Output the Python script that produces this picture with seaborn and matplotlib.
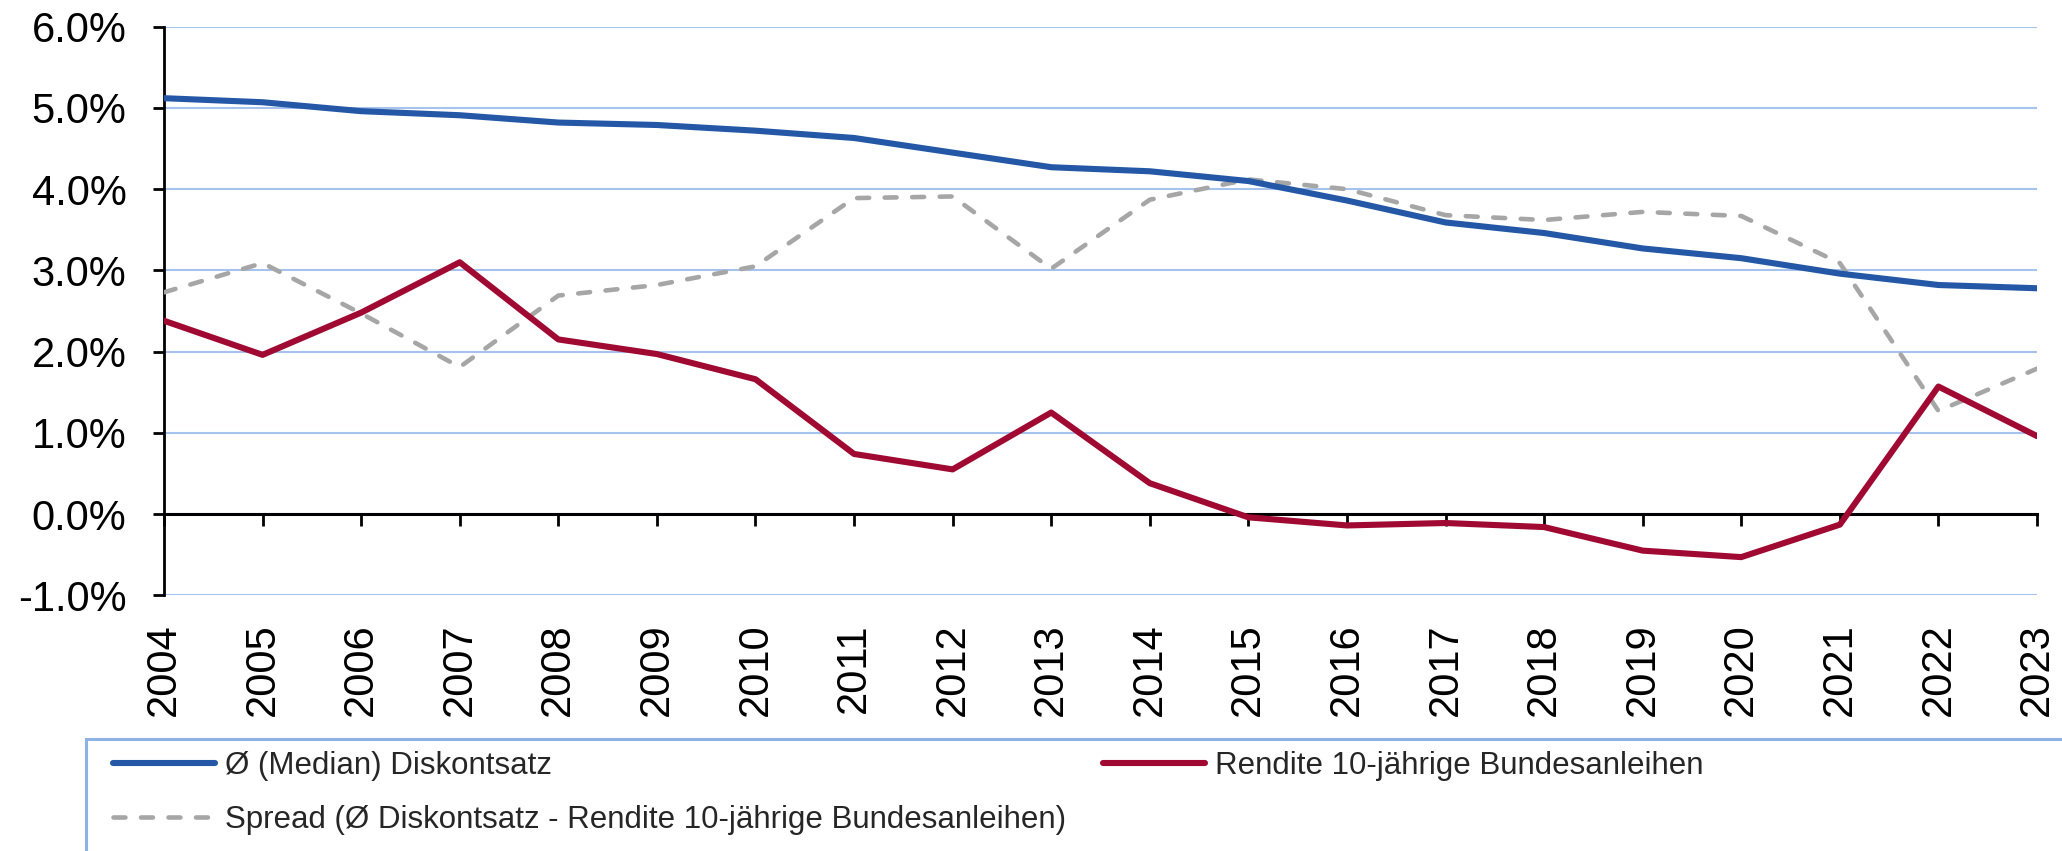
# %% ---- Requirements and constants ------------------------
import matplotlib
matplotlib.use('Agg')
import matplotlib.pyplot as plt
import seaborn as sns
import pandas as pd
from matplotlib.lines import Line2D
from matplotlib.patches import Rectangle
from matplotlib.ticker import PercentFormatter, MultipleLocator

years = [2004, 2005, 2006, 2007, 2008, 2009, 2010, 2011, 2012, 2013,
         2014, 2015, 2016, 2017, 2018, 2019, 2020, 2021, 2022, 2023]
median_rate = [5.12, 5.07, 4.96, 4.91, 4.82, 4.79, 4.72, 4.63, 4.45, 4.27,
               4.22, 4.10, 3.86, 3.59, 3.46, 3.27, 3.15, 2.96, 2.82, 2.78]
bund_yield = [2.38, 1.96, 2.48, 3.10, 2.15, 1.97, 1.66, 0.74, 0.55, 1.25,
              0.38, -0.04, -0.14, -0.11, -0.16, -0.45, -0.53, -0.13, 1.57, 0.96]
spread = [2.73, 3.09, 2.47, 1.81, 2.69, 2.82, 3.05, 3.89, 3.91, 3.02,
          3.87, 4.12, 4.00, 3.68, 3.62, 3.72, 3.67, 3.09, 1.27, 1.79]

labels = ['Ø (Median) Diskontsatz',
          'Rendite 10-jährige Bundesanleihen',
          'Spread (Ø Diskontsatz - Rendite 10-jährige Bundesanleihen)']

BLUE = '#2458a6'
RED = '#a00a32'
GREY = '#a6a6a6'
GRID = '#a6c3ee'
FRAME = '#8db3e4'

df = pd.DataFrame({'year': years, 'median': median_rate,
                   'bund': bund_yield, 'spread': spread})

# %% ---- Plot ------------------------
sns.set_style('white')
plt.rcParams['font.family'] = ['Liberation Sans', 'DejaVu Sans']
plt.rcParams['axes.unicode_minus'] = False

W, H = 2062, 851
fig = plt.figure(figsize=(W / 100, H / 100), dpi=100)
ax = fig.add_axes([164 / W, 1 - 595.3 / H, (2037 - 164) / W, (595.3 - 26.7) / H])

lw = 4.4
lw_dash = 3.3
dash = (2.6, 3.4)

# x axis sits on the 0 line; set this before touching tick labels
ax.spines['bottom'].set_position(('data', 0))

sns.lineplot(data=df, x='year', y='spread', ax=ax, color=GREY, lw=lw_dash,
             legend=False, zorder=3)
ax.lines[-1].set_dashes(dash)
ax.lines[-1].set_dash_capstyle('round')
sns.lineplot(data=df, x='year', y='bund', ax=ax, color=RED, lw=lw,
             legend=False, zorder=4)
sns.lineplot(data=df, x='year', y='median', ax=ax, color=BLUE, lw=lw,
             legend=False, zorder=5)
for ln in ax.lines:
    ln.set_solid_capstyle('round')

ax.set_xlim(years[0], years[-1])
ax.set_ylim(-1, 6)
ax.yaxis.set_major_locator(MultipleLocator(1))
ax.yaxis.set_major_formatter(PercentFormatter(decimals=1))
ax.set_xticks(years)
ax.set_xticklabels([str(y) for y in years])
ax.set_xlabel('')
ax.set_ylabel('')

ax.grid(axis='y', color=GRID, lw=1.5, zorder=0)
ax.grid(axis='x', visible=False)
for s in ['top', 'right']:
    ax.spines[s].set_visible(False)
ax.spines['left'].set_color('black')
ax.spines['left'].set_linewidth(2.0)
ax.spines['bottom'].set_color('black')
ax.spines['bottom'].set_linewidth(2.2)
ax.spines['bottom'].set_zorder(2)

ax.tick_params(axis='y', direction='out', length=8, width=2.0, pad=19,
               labelsize=30, colors='black', left=True)
ax.tick_params(axis='x', direction='out', length=8.6, width=2.0, pad=70,
               labelsize=30, colors='black', bottom=True, labelrotation=90)

# legend frame, partly running off the figure like the source
fig.patches.append(Rectangle((86 / W, -0.2), 1.2, 0.2 + 1 - 739 / H,
                             transform=fig.transFigure, fill=False,
                             edgecolor=FRAME, lw=2.2, zorder=1))

legend_font = {'family': ['Liberation Sans', 'DejaVu Sans'], 'size': 22.5}
h_med = Line2D([], [], color=BLUE, lw=lw, solid_capstyle='round')
h_spr = Line2D([], [], color=GREY, lw=lw_dash, dashes=dash, dash_capstyle='round')
h_bund = Line2D([], [], color=RED, lw=lw, solid_capstyle='round')

common = dict(loc='upper left', frameon=False, borderpad=0, borderaxespad=0,
              handlelength=3.27, handletextpad=0.32, prop=legend_font)
fig.legend([h_med, h_spr], [labels[0], labels[2]],
           bbox_to_anchor=(113 / W, 1 - 751 / H), labelspacing=0.78, **common)
fig.legend([h_bund], [labels[1]],
           bbox_to_anchor=(1103 / W, 1 - 751 / H), **common)

fig.savefig('out.png', dpi=100)
